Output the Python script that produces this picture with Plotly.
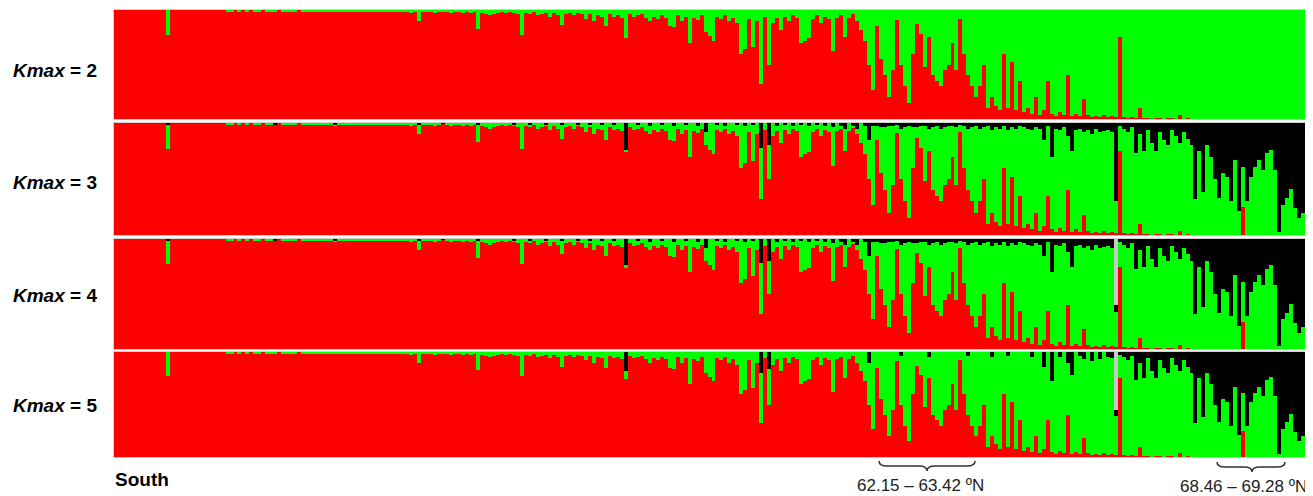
import plotly.graph_objects as go
from plotly.subplots import make_subplots

# ---------------- data (percent membership per individual, south -> north) ----------------
N = 300
individuals = list(range(N))

# red cluster membership (same individuals in every panel)
red = [
    100, 100, 100, 100, 100, 100, 100, 100, 100, 100,   # 0
    100, 100, 100, 77, 100, 100, 100, 100, 100, 100,    # 10
    100, 100, 100, 100, 100, 100, 100, 100, 99, 99,     # 20
    100, 99, 100, 99, 100, 99, 99, 100, 99, 98,         # 30
    99, 100, 99, 99, 98, 99, 100, 99, 99, 98,           # 40
    99, 99, 98, 99, 99, 98, 99, 99, 98, 99,             # 50
    99, 98, 99, 98, 99, 99, 98, 98, 99, 98,             # 60
    99, 98, 99, 98, 97, 99, 90, 98, 99, 98,             # 70
    97, 98, 99, 98, 97, 98, 98, 97, 98, 97,             # 80
    98, 83, 97, 96, 95, 96, 97, 98, 97, 98,             # 90
    97, 96, 77, 97, 96, 98, 95, 96, 97, 94,             # 100
    97, 95, 86, 96, 97, 95, 97, 96, 92, 96,             # 110
    90, 95, 94, 85, 96, 94, 95, 93, 74, 96,             # 120
    94, 95, 96, 93, 90, 94, 92, 95, 93, 85,             # 130
    84, 95, 90, 94, 70, 93, 91, 95, 80, 76,             # 140
    72, 94, 92, 95, 90, 93, 88, 60, 64, 92,             # 150
    66, 90, 32, 94, 50, 88, 93, 82, 94, 90,             # 160
    95, 93, 70, 72, 74, 92, 95, 88, 94, 92,             # 170
    62, 93, 95, 75, 93, 96, 90, 82, 72, 50,             # 180
    27, 85, 55, 40, 20, 45, 91, 50, 30, 15,             # 190
    60, 87, 78, 48, 75, 40, 35, 30, 45, 50,             # 200
    70, 45, 92, 60, 40, 30, 20, 30, 50, 10,             # 210
    20, 12, 8, 60, 10, 52, 8, 35, 6, 10,                # 220
    5, 20, 4, 8, 35, 5, 3, 6, 4, 40,                    # 230
    3, 5, 3, 18, 4, 2, 3, 2, 4, 2,                      # 240
    3, 2, 75, 2, 1, 2, 1, 10, 1, 1,                     # 250
    0, 1, 1, 0, 1, 1, 0, 4, 0, 1,                       # 260
    0, 0, 0, 0, 0, 0, 0, 0, 0, 0,                       # 270
    0, 0, 0, 0, 0, 0, 0, 0, 0, 0,                       # 280
    0, 0, 0, 0, 0, 0, 0, 0, 0, 0,                       # 290
]
# individuals whose red share differs for K >= 3
red_k3to5_changes = {283: 25}

# black cluster (K = 3), individual -> percent
black_k3 = {
    13: 2, 40: 1, 55: 1, 76: 1, 82: 2, 91: 2,
    100: 1, 104: 2, 108: 1, 112: 2, 116: 1, 119: 2, 122: 2, 125: 2, 128: 24, 131: 2,
    134: 3, 137: 2, 140: 3, 143: 2, 146: 3, 148: 8, 151: 2, 153: 3, 156: 2, 158: 3,
    160: 2, 162: 22, 164: 20, 166: 3, 168: 2, 170: 3, 172: 2, 174: 3, 176: 2, 178: 3,
    180: 4, 182: 3, 183: 5, 185: 3, 186: 5, 188: 3,
    189: 15, 190: 3, 191: 3, 192: 4, 193: 4, 194: 3, 195: 3, 196: 2, 197: 5, 198: 4,
    199: 3, 200: 4, 201: 4, 202: 3, 203: 3, 204: 5, 205: 4, 206: 3, 207: 5, 208: 4,
    209: 3, 210: 3, 211: 4, 212: 2, 213: 3, 214: 5, 215: 4, 216: 3, 217: 5, 218: 4,
    219: 3, 220: 6, 221: 4, 222: 5, 223: 3, 224: 6, 225: 4, 226: 5, 227: 3, 228: 4,
    229: 5, 230: 6, 231: 4, 232: 5, 233: 15, 234: 3, 235: 30, 236: 5, 237: 6, 238: 4,
    239: 12, 240: 25, 241: 6, 242: 5, 243: 8, 244: 6, 245: 10, 246: 5, 247: 8, 248: 7,
    249: 6, 250: 8, 251: 70, 252: 3,
    253: 5, 254: 8, 255: 4, 256: 27, 257: 10, 258: 25, 259: 6, 260: 18, 261: 25, 262: 8,
    263: 15, 264: 20, 265: 6, 266: 12, 267: 18, 268: 8, 269: 14, 270: 20, 271: 68, 272: 25,
    273: 62, 274: 20, 275: 30, 276: 50, 277: 67, 278: 45, 279: 48, 280: 70, 281: 33,
    282: 79, 283: 39, 284: 70, 285: 48, 286: 39, 287: 33, 288: 42, 289: 27, 290: 24,
    291: 42, 292: 97, 293: 73, 294: 67, 295: 59, 296: 76, 297: 85, 298: 80, 299: 88,
}
# K = 4 black equals K = 3 black except for the individual taken by the grey cluster
black_k4_changes = {251: 6}
grey_k4 = {251: 60}

black_k5 = {
    128: 18, 162: 20, 164: 16, 189: 10, 197: 4, 204: 5, 214: 4, 220: 5, 224: 4,
    230: 5, 233: 14, 235: 28, 237: 5, 239: 10, 240: 22, 242: 4, 243: 7, 245: 9,
    247: 7, 249: 5, 250: 6, 251: 6, 252: 3,
    253: 5, 254: 8, 255: 4, 256: 27, 257: 10, 258: 25, 259: 6, 260: 18, 261: 25, 262: 8,
    263: 15, 264: 20, 265: 6, 266: 12, 267: 18, 268: 8, 269: 14, 270: 20, 271: 68, 272: 25,
    273: 62, 274: 20, 275: 30, 276: 50, 277: 67, 278: 45, 279: 48, 280: 70, 281: 33,
    282: 79, 283: 39, 284: 70, 285: 48, 286: 39, 287: 33, 288: 42, 289: 27, 290: 24,
    291: 42, 292: 97, 293: 73, 294: 67, 295: 59, 296: 76, 297: 85, 298: 80, 299: 88,
}
grey_k5 = {251: 55}

panel_labels = ["2", "3", "4", "5"]
south_label = "South"
range_labels = ["62.15 – 63.42 ºN", "68.46 – 69.28 ºN"]

assert len(red) == N

# ---------------- build panels ----------------
red_k3 = [red_k3to5_changes.get(i, v) for i, v in enumerate(red)]
black_k4 = dict(black_k3)
black_k4.update(black_k4_changes)

panels = [
    (red, {}, {}),
    (red_k3, black_k3, {}),
    (red_k3, black_k4, grey_k4),
    (red_k3, black_k5, grey_k5),
]

RED, GREEN, BLACK, GREY = "#ff0000", "#00ff00", "#000000", "#c8c8c8"

fig = make_subplots(rows=4, cols=1, shared_xaxes=True, vertical_spacing=0.01)

for r, (rv, bk, gr) in enumerate(panels, start=1):
    b = [bk.get(i, 0) for i in individuals]
    g = [gr.get(i, 0) for i in individuals]
    gn = [max(0, 100 - rv[i] - b[i] - g[i]) for i in individuals]
    for vals, col in ((rv, RED), (gn, GREEN), (b, BLACK), (g, GREY)):
        if not any(vals):
            continue
        fig.add_trace(go.Bar(x=individuals, y=vals, marker=dict(color=col, line=dict(width=0)),
                             width=1.0, showlegend=False, hoverinfo="skip"), row=r, col=1)

# page pixel geometry (the page body adds an 8 px offset)
OFF = 8
PAGE_W, PAGE_H = 1313, 496
L, R, T, B = 114, 1309, 10, 457          # plot area in page pixels
W, H = PAGE_W - OFF, PAGE_H - OFF


def px(x):
    return (x - L) / (R - L)


def py(y):
    return (B - y) / (B - T)


panel_px = [(10, 119), (123, 235), (239, 349), (352, 457)]
for k, (top, bot) in enumerate(panel_px, start=1):
    key = "yaxis" if k == 1 else f"yaxis{k}"
    fig.layout[key].domain = [py(bot), py(top)]

fig.update_yaxes(range=[0, 100], visible=False, fixedrange=True)
fig.update_xaxes(range=[-0.5, N - 0.5], visible=False, showgrid=False, zeroline=False)

shapes = []
for top, bot in panel_px:
    shapes.append(dict(type="rect", xref="paper", yref="paper", x0=px(113.5), x1=px(1308.5),
                       y0=py(bot + 0.5), y1=py(top - 0.5), line=dict(color="#d0d0d0", width=1)))
shapes.append(dict(type="line", xref="paper", yref="paper", x0=px(1310), x1=px(1310),
                   y0=py(459), y1=py(9), line=dict(color="#a0a0a0", width=2)))


def brace(x0, x1, xm, y0, y1, y2, r=8):
    p = (f"M {px(x0)},{py(y0)} Q {px(x0)},{py(y1)} {px(x0 + r)},{py(y1)} "
         f"L {px(xm - r)},{py(y1)} Q {px(xm)},{py(y1)} {px(xm)},{py(y2)} "
         f"Q {px(xm)},{py(y1)} {px(xm + r)},{py(y1)} "
         f"L {px(x1 - r)},{py(y1)} Q {px(x1)},{py(y1)} {px(x1)},{py(y0)}")
    return dict(type="path", xref="paper", yref="paper", path=p,
                line=dict(color="#333333", width=1.5))


shapes.append(brace(879, 975, 927, 461, 466, 471))
shapes.append(brace(1217, 1285, 1252, 462, 467, 472))

FONT = "Liberation Sans, Arial"
annotations = []
label_y = [70, 183, 295, 405]
for lab, yy in zip(panel_labels, label_y):
    annotations.append(dict(text=f"<b><i>Kmax</i> = {lab}</b>", x=px(99), y=py(yy),
                            xref="paper", yref="paper", xanchor="right", yanchor="middle",
                            showarrow=False, font=dict(size=19, color="black", family=FONT)))
annotations.append(dict(text=f"<b>{south_label}</b>", x=px(113), y=py(479), xref="paper",
                        yref="paper", xanchor="left", yanchor="middle", showarrow=False,
                        font=dict(size=19, color="black", family=FONT)))
annotations.append(dict(text=range_labels[0], x=px(921), y=py(485), xref="paper", yref="paper",
                        xanchor="center", yanchor="middle", showarrow=False,
                        font=dict(size=17, color="#222222", family=FONT)))
annotations.append(dict(text=range_labels[1], x=px(1243), y=py(487), xref="paper", yref="paper",
                        xanchor="center", yanchor="middle", showarrow=False,
                        font=dict(size=17, color="#222222", family=FONT)))

fig.update_layout(
    width=W, height=H, barmode="stack", bargap=0,
    margin=dict(l=L - OFF, r=PAGE_W - R, t=T - OFF, b=PAGE_H - B, pad=0),
    paper_bgcolor="white", plot_bgcolor="white",
    shapes=shapes, annotations=annotations, showlegend=False,
)

fig.write_html("out.html", config={"displayModeBar": False})
